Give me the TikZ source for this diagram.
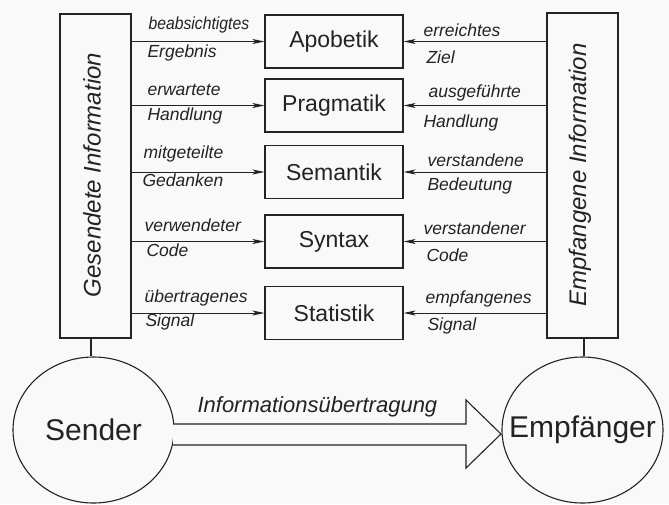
\documentclass[tikz,border=0pt]{standalone}
\usepackage{fontspec}
\setmainfont{Liberation Sans}
\usetikzlibrary{arrows.meta,shapes.geometric,calc}
\definecolor{ink}{RGB}{35,35,35}
\definecolor{bg}{RGB}{249,249,249}
\begin{document}
\begin{tikzpicture}[x=1pt,y=-1pt,
  line width=1.1pt, draw=ink, text=ink,
  layerbox/.style={draw=ink, minimum width=138pt, minimum height=53pt, inner sep=0pt,
    font=\fontsize{23}{26}\selectfont},
  sidebox/.style={draw=ink, minimum width=71pt, minimum height=324pt, inner sep=0pt},
  sidetext/.style={rotate=90, font=\fontsize{24}{28}\selectfont\itshape, inner sep=0pt},
  party/.style={ellipse, draw=ink, minimum width=161pt, minimum height=146pt, inner sep=0pt},
  partytext/.style={inner sep=0pt, font=\fontsize{30}{34}\selectfont},
  lbl/.style={anchor=base west, inner sep=0pt, font=\fontsize{17.5}{20}\selectfont\itshape},
  arr/.style={draw=ink, line width=1pt, -{Stealth[length=12pt,width=5pt,inset=3pt]}},
  bigarr/.style={draw=ink, line width=1.1pt, fill=bg}
]
\fill[bg] (0,0) rectangle (669,504);
\useasboundingbox (0,0) rectangle (669,504);

% side boxes
\node[sidebox] (gi) at (95.5,176) {};
\node[sidetext] (git) at (92,175) {Gesendete Information};
\node[sidebox, minimum height=325pt] (ei) at (582.5,175.5) {};
\node[sidetext] (eit) at (580,175) {Empfangene Information};

% layer boxes
\node[layerbox] (apo)  at (334,41.5)  {Apobetik};
\node[layerbox] (prag) at (334,105.5) {Pragmatik};
\node[layerbox] (sem)  at (334,172)   {Semantik};
\node[layerbox] (syn)  at (334,241.5) {Syntax};
\node[layerbox] (stat) at (334,313)   {Statistik};

% arrows
\foreach \b in {apo,prag,sem,syn,stat}{
  \draw[arr] (gi.east |- \b.west) -- (\b.west);
  \draw[arr] (ei.west |- \b.east) -- (\b.east);
}

% left labels
\node[lbl] (l1a) at (148,29)  {\scalebox{0.9}[1]{beabsichtigtes}};
\node[lbl] (l1b) at (147,57)  {Ergebnis};
\node[lbl] (l2a) at (147,95)  {erwartete};
\node[lbl] (l2b) at (147,120) {Handlung};
\node[lbl] (l3a) at (143,158) {mitgeteilte};
\node[lbl] (l3b) at (142,186) {Gedanken};
\node[lbl] (l4a) at (144,231) {verwendeter};
\node[lbl] (l4b) at (146,256) {Code};
\node[lbl] (l5a) at (144,302) {übertragenes};
\node[lbl] (l5b) at (145,326) {Signal};

% right labels
\node[lbl] (r1a) at (423,36)  {erreichtes};
\node[lbl] (r1b) at (426,63)  {Ziel};
\node[lbl] (r2a) at (428,97)  {ausgeführte};
\node[lbl] (r2b) at (423,127) {Handlung};
\node[lbl] (r3a) at (427,166) {verstandene};
\node[lbl] (r3b) at (427,190) {Bedeutung};
\node[lbl] (r4a) at (423,234) {verstandener};
\node[lbl] (r4b) at (426,261) {Code};
\node[lbl] (r5a) at (425,303) {empfangenes};
\node[lbl] (r5b) at (427,330) {Signal};

% sender / receiver
\node[party] (sender) at (93.5,430) {};
\node[partytext] (sendert) at (sender.center) {Sender};
\node[party] (empf)   at (582.5,430) {};
\node[partytext] (empft) at (empf.center) {Empfänger};
\draw (gi.south -| 91,0) -- (sender.north -| 91,0);
\draw (ei.south -| 584,0) -- (empf.north -| 584,0);

% big transmission arrow
\draw[bigarr] (173,424) -- (466,424) -- (466,400) -- (501,434) -- (466,468) -- (466,445) -- (173,445);
\node[anchor=base west, inner sep=0pt, font=\fontsize{22}{25}\selectfont\itshape] (it) at (197,412) {Informationsübertragung};
\end{tikzpicture}
\end{document}
